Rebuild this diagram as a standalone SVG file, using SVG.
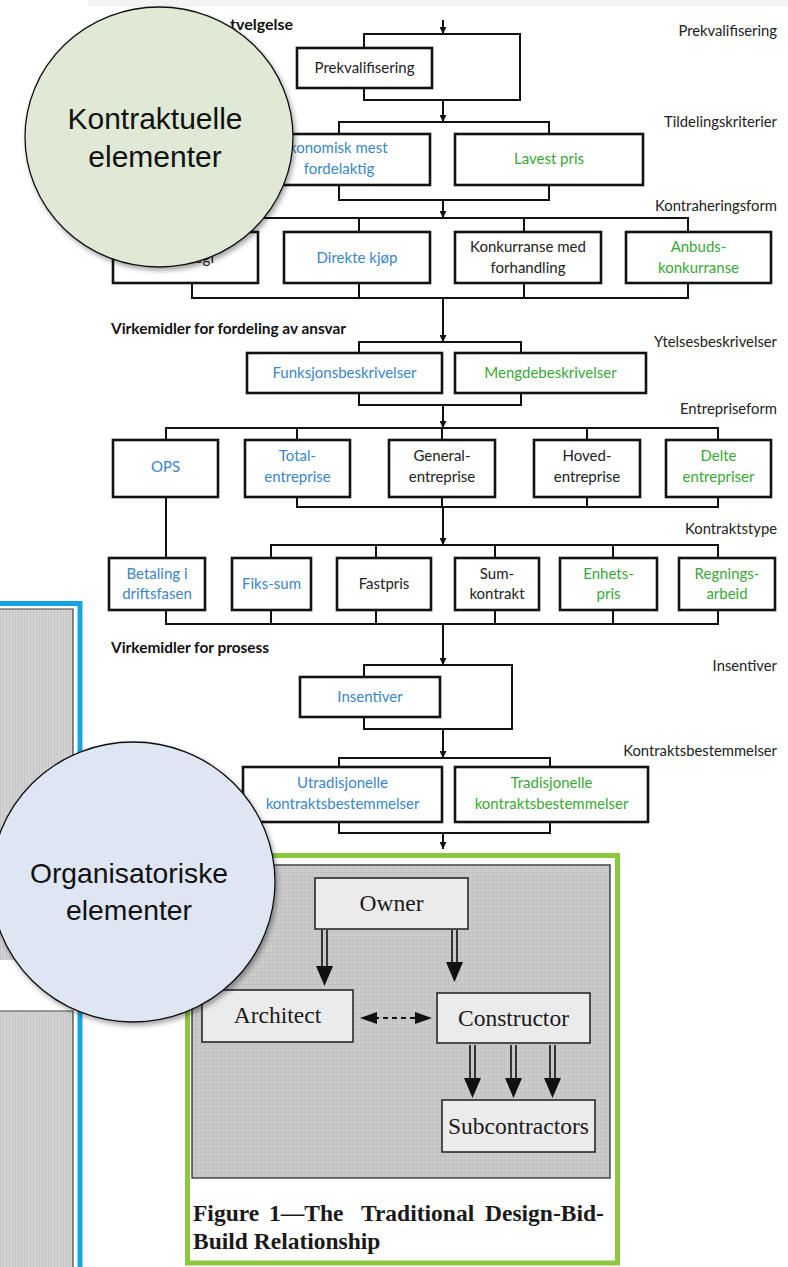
<svg xmlns="http://www.w3.org/2000/svg" width="788" height="1267" viewBox="0 0 788 1267">
  <defs>
    <style>
      .box { fill: #ffffff; stroke: #111111; stroke-width: 2.6; }
      .con { fill: none; stroke: #111111; stroke-width: 2; }
      .t { font-family: Lato, "Open Sans", sans-serif; font-size: 15px; fill: #222222; text-anchor: middle; }
      .blue { fill: #3a86c6; }
      .green { fill: #3aa836; }
      .lbl { font-family: Lato, "Open Sans", sans-serif; font-size: 14.8px; fill: #222222; text-anchor: end; }
      .hdr { font-family: Lato, "Open Sans", sans-serif; font-size: 15.4px; font-weight: bold; fill: #111111; }
      .bubble { font-family: "Liberation Sans", Arial, sans-serif; fill: #111111; text-anchor: middle; }
      .fbox { fill: #ebebeb; stroke: #2a2a2a; stroke-width: 1.6; }
      .ftxt { font-family: "Liberation Serif", "Times New Roman", serif; font-size: 23.5px; fill: #1a1a1a; text-anchor: middle; }
      .cap { font-family: "Liberation Serif", "Times New Roman", serif; font-size: 23.5px; font-weight: bold; fill: #1a1a1a; }
      .shaft { stroke: #111111; stroke-width: 1.6; fill: none; }
    </style>
    <marker id="ah" viewBox="0 0 10 10" refX="10" refY="5" markerWidth="7" markerHeight="7" orient="auto" markerUnits="userSpaceOnUse">
      <path d="M0,0 L10,5 L0,10 z" fill="#111111"/>
    </marker>
    <pattern id="hatch" width="4" height="4" patternUnits="userSpaceOnUse">
      <rect width="4" height="4" fill="#cbcbcb"/>
      <path d="M0,0.5 H4 M0.5,0 V4" stroke="#bdbdbd" stroke-width="0.6"/>
    </pattern>
    <pattern id="stripes" width="3" height="6" patternUnits="userSpaceOnUse">
      <rect width="3" height="6" fill="#d2d2d2"/>
      <path d="M0.5,0 V6" stroke="#c2c2c2" stroke-width="0.7"/>
    </pattern>
    <filter id="shadow" x="-10%" y="-10%" width="125%" height="125%">
      <feDropShadow dx="2" dy="3" stdDeviation="2.5" flood-color="#000000" flood-opacity="0.35"/>
    </filter>
  </defs>

  <rect width="788" height="1267" fill="#ffffff"/>
  <rect x="88" y="0" width="700" height="7" fill="#f3f3f3"/>

  <!-- left picture panel with blue frame -->
  <g id="left-panel">
    <rect x="0" y="609" width="73" height="351" fill="url(#stripes)"/>
    <rect x="0" y="1011" width="73" height="256" fill="url(#stripes)"/>
    <path d="M0,609 H73 V960 M0,1011 H73 V1267" fill="none" stroke="#444444" stroke-width="1.2"/>
    <rect x="-10" y="603.5" width="90" height="700" fill="none" stroke="#18a3e2" stroke-width="5"/>
  </g>

  <!-- connectors of the flowchart -->
  <g id="connectors" class="con">
    <!-- prekvalifisering loop -->
    <line x1="443" y1="20" x2="443" y2="34" marker-end="url(#ah)"/>
    <path d="M364,48 V34 H520 V100 H364 V88"/>
    <line x1="443" y1="100" x2="443" y2="122" marker-end="url(#ah)"/>
    <!-- tildelingskriterier -->
    <path d="M339,134 V122 H549 V134"/>
    <path d="M339,185 V200 H549 V185"/>
    <line x1="443" y1="200" x2="443" y2="218" marker-end="url(#ah)"/>
    <!-- kontraheringsform -->
    <path d="M192,232 V218 H688 V232 M359,218 V232 M524,218 V232"/>
    <path d="M192,283 V298 H688 V283 M359,283 V298 M524,283 V298"/>
    <line x1="443" y1="298" x2="443" y2="342" marker-end="url(#ah)"/>
    <!-- ytelsesbeskrivelser -->
    <path d="M359,353 V342 H521 V353"/>
    <path d="M359,393 V405 H521 V393"/>
    <line x1="443" y1="405" x2="443" y2="428" marker-end="url(#ah)"/>
    <!-- entrepriseform -->
    <path d="M166,440 V428 H718 V440 M297,428 V440 M442,428 V440 M587,428 V440"/>
    <path d="M297,497 V507 H718 V497 M442,497 V507 M587,497 V507"/>
    <line x1="166" y1="497" x2="166" y2="558"/>
    <line x1="443" y1="507" x2="443" y2="545" marker-end="url(#ah)"/>
    <!-- kontraktstype -->
    <path d="M271,558 V545 H718 V558 M376,545 V558 M495,545 V558 M613,545 V558"/>
    <path d="M166,610 V624 H718 V610 M271,610 V624 M376,610 V624 M495,610 V624 M613,610 V624"/>
    <line x1="443" y1="624" x2="443" y2="665" marker-end="url(#ah)"/>
    <!-- insentiver loop -->
    <path d="M364,677 V665 H512 V729 H364 V717"/>
    <line x1="443" y1="729" x2="443" y2="758" marker-end="url(#ah)"/>
    <!-- kontraktsbestemmelser -->
    <path d="M339,767 V758 H550 V767"/>
    <path d="M339,822 V833 H550 V822"/>
    <line x1="443" y1="833" x2="443" y2="849" marker-end="url(#ah)"/>
  </g>

  <!-- section headings -->
  <text class="hdr" x="230" y="30" style="font-size:16px">tvelgelse</text>
  <text class="hdr" x="111" y="334">Virkemidler for fordeling av ansvar</text>
  <text class="hdr" x="111" y="653">Virkemidler for prosess</text>

  <!-- level labels on the right -->
  <g id="level-labels">
    <text class="lbl" x="777" y="36">Prekvalifisering</text>
    <text class="lbl" x="777" y="127">Tildelingskriterier</text>
    <text class="lbl" x="777" y="211">Kontraheringsform</text>
    <text class="lbl" x="777" y="347">Ytelsesbeskrivelser</text>
    <text class="lbl" x="777" y="414">Entrepriseform</text>
    <text class="lbl" x="777" y="534">Kontraktstype</text>
    <text class="lbl" x="777" y="671">Insentiver</text>
    <text class="lbl" x="777" y="756">Kontraktsbestemmelser</text>
  </g>

  <!-- flowchart nodes -->
  <g id="n-prekval"><rect class="box" x="297" y="48" width="135" height="40"/><text class="t" x="364.5" y="73">Prekvalifisering</text></g>

  <g id="n-okonomisk"><rect class="box" x="248" y="134" width="182" height="51"/><text class="t blue" x="289" y="153" style="text-anchor:start">konomisk mest</text><text class="t blue" x="339" y="174">fordelaktig</text></g>
  <g id="n-lavest"><rect class="box" x="455" y="134" width="188" height="51"/><text class="t green" x="549" y="164">Lavest pris</text></g>

  <g id="n-strategi"><rect class="box" x="113" y="232" width="145" height="51"/><text class="t" x="214" y="263" style="text-anchor:end">egi</text></g>
  <g id="n-direkte"><rect class="box" x="284" y="232" width="146" height="51"/><text class="t blue" x="357" y="263">Direkte kjøp</text></g>
  <g id="n-konkurranse"><rect class="box" x="455" y="232" width="146" height="51"/><text class="t" x="528" y="252">Konkurranse med</text><text class="t" x="528" y="273">forhandling</text></g>
  <g id="n-anbud"><rect class="box" x="626" y="232" width="145" height="51"/><text class="t green" x="698.5" y="252">Anbuds-</text><text class="t green" x="698.5" y="273">konkurranse</text></g>

  <g id="n-funksjon"><rect class="box" x="247" y="353" width="195" height="40"/><text class="t blue" x="344.5" y="378">Funksjonsbeskrivelser</text></g>
  <g id="n-mengde"><rect class="box" x="455" y="353" width="191" height="40"/><text class="t green" x="550.5" y="378">Mengdebeskrivelser</text></g>

  <g id="n-ops"><rect class="box" x="113" y="440" width="105" height="57"/><text class="t blue" x="165.5" y="472">OPS</text></g>
  <g id="n-total"><rect class="box" x="245" y="440" width="105" height="57"/><text class="t blue" x="297.5" y="461">Total-</text><text class="t blue" x="297.5" y="482">entreprise</text></g>
  <g id="n-general"><rect class="box" x="389" y="440" width="106" height="57"/><text class="t" x="442" y="461">General-</text><text class="t" x="442" y="482">entreprise</text></g>
  <g id="n-hoved"><rect class="box" x="534" y="440" width="106" height="57"/><text class="t" x="587" y="461">Hoved-</text><text class="t" x="587" y="482">entreprise</text></g>
  <g id="n-delte"><rect class="box" x="666" y="440" width="105" height="57"/><text class="t green" x="718.5" y="461">Delte</text><text class="t green" x="718.5" y="482">entrepriser</text></g>

  <g id="n-betaling"><rect class="box" x="109" y="558" width="96" height="52"/><text class="t blue" x="157" y="579">Betaling i</text><text class="t blue" x="157" y="599">driftsfasen</text></g>
  <g id="n-fiks"><rect class="box" x="232" y="558" width="79" height="52"/><text class="t blue" x="271.5" y="589">Fiks-sum</text></g>
  <g id="n-fastpris"><rect class="box" x="337" y="558" width="94" height="52"/><text class="t" x="384" y="589">Fastpris</text></g>
  <g id="n-sum"><rect class="box" x="455" y="558" width="84" height="52"/><text class="t" x="497" y="579">Sum-</text><text class="t" x="497" y="599">kontrakt</text></g>
  <g id="n-enhet"><rect class="box" x="560" y="558" width="97" height="52"/><text class="t green" x="608.5" y="579">Enhets-</text><text class="t green" x="608.5" y="599">pris</text></g>
  <g id="n-regning"><rect class="box" x="679" y="558" width="96" height="52"/><text class="t green" x="727" y="579">Regnings-</text><text class="t green" x="727" y="599">arbeid</text></g>

  <g id="n-insentiver"><rect class="box" x="300" y="677" width="140" height="40"/><text class="t blue" x="370" y="702">Insentiver</text></g>

  <g id="n-utradisjonelle"><rect class="box" x="243" y="767" width="199" height="55"/><text class="t blue" x="342.5" y="788">Utradisjonelle</text><text class="t blue" x="342.5" y="809">kontraktsbestemmelser</text></g>
  <g id="n-tradisjonelle"><rect class="box" x="455" y="767" width="193" height="55"/><text class="t green" x="551.5" y="788">Tradisjonelle</text><text class="t green" x="551.5" y="809">kontraktsbestemmelser</text></g>

  <!-- design-bid-build figure with green frame -->
  <g id="figure-dbb">
    <rect x="187.5" y="855.5" width="430" height="407.5" fill="#ffffff" stroke="#8cc83f" stroke-width="5"/>
    <rect x="192" y="865" width="418" height="313" fill="url(#hatch)" stroke="#3a3a3a" stroke-width="1.4"/>
    <g id="n-owner"><rect class="fbox" x="315" y="878" width="153" height="51"/><text class="ftxt" x="391.5" y="911">Owner</text></g>
    <g id="n-architect"><rect class="fbox" x="202" y="990" width="151" height="52"/><text class="ftxt" x="277.5" y="1023">Architect</text></g>
    <g id="n-constructor"><rect class="fbox" x="437" y="993" width="153" height="50"/><text class="ftxt" x="513.5" y="1026">Constructor</text></g>
    <g id="n-subcontractors"><rect class="fbox" x="442" y="1100" width="153" height="52"/><text class="ftxt" x="518.5" y="1134">Subcontractors</text></g>
    <g id="figure-arrows">
      <path class="shaft" d="M322,930 V968 M327,930 V968"/>
      <polygon points="316,966 333,966 324.5,986" fill="#111111"/>
      <path class="shaft" d="M452,930 V964 M457,930 V964"/>
      <polygon points="446,962 463,962 454.5,982" fill="#111111"/>
      <path class="shaft" d="M470,1045 V1080 M475,1045 V1080 M511,1045 V1080 M516,1045 V1080 M550,1045 V1080 M555,1045 V1080"/>
      <polygon points="464,1078 481,1078 472.5,1098" fill="#111111"/>
      <polygon points="505,1078 522,1078 513.5,1098" fill="#111111"/>
      <polygon points="544,1078 561,1078 552.5,1098" fill="#111111"/>
      <line x1="374" y1="1018" x2="418" y2="1018" stroke="#111111" stroke-width="2" stroke-dasharray="5,4"/>
      <polygon points="360,1018 377,1012 377,1024" fill="#111111"/>
      <polygon points="432,1018 415,1012 415,1024" fill="#111111"/>
    </g>
    <text class="cap" y="1221"><tspan x="193">Figure</tspan><tspan x="269">1—The</tspan><tspan x="361">Traditional</tspan><tspan x="485">Design-Bid-</tspan></text>
    <text class="cap" x="193" y="1249">Build Relationship</text>
  </g>

  <!-- category bubbles -->
  <g id="bubble-kontraktuelle">
    <ellipse cx="159" cy="137" rx="134" ry="130" fill="#dfe9d5" stroke="#111111" stroke-width="1.3" filter="url(#shadow)"/>
    <text class="bubble" x="155" y="129" style="font-size:30px">Kontraktuelle</text>
    <text class="bubble" x="155" y="167" style="font-size:30px">elementer</text>
  </g>
  <g id="bubble-organisatoriske">
    <ellipse cx="133" cy="882" rx="142" ry="140" fill="#dee6f3" stroke="#111111" stroke-width="1.3" filter="url(#shadow)"/>
    <text class="bubble" x="129" y="883" style="font-size:28.3px">Organisatoriske</text>
    <text class="bubble" x="129" y="920" style="font-size:28.3px">elementer</text>
  </g>
</svg>
